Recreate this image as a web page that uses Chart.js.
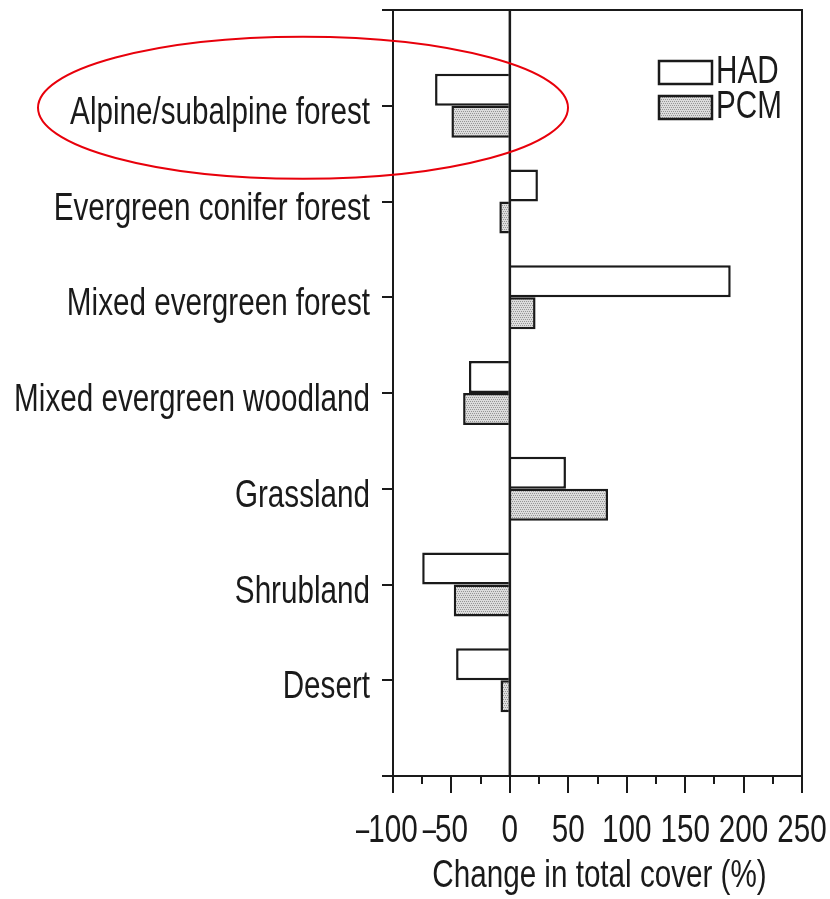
<!DOCTYPE html>
<html>
<head>
<meta charset="utf-8">
<script src="https://cdn.jsdelivr.net/npm/chart.js@4"></script>
<style>
  body { margin: 0; background: #fff; }
  canvas { display: block; }
</style>
</head>
<body>
<canvas id="my-chart" width="830" height="899"></canvas>
<script>
// blank first/last slots give the ticks at the top and bottom of the frame
const categories = ['', 'Alpine/subalpine forest', 'Evergreen conifer forest', 'Mixed evergreen forest',
    'Mixed evergreen woodland', 'Grassland', 'Shrubland', 'Desert', ''];
const hadValues = [null, -64, 24, 189, -35, 48, -75, -46, null];
const pcmValues = [null, -50, -9, 22, -40, 84, -48, -8, null];
const seriesNames = ['HAD', 'PCM'];
const xTicks = [-100, -50, 0, 50, 100, 150, 200, 250];
const xTitle = 'Change in total cover (%)';

// the original type is a condensed sans; squeeze Liberation Sans to match
const FONT = "38px 'Liberation Sans', Arial, sans-serif";
const SQUEEZE = 0.78;
const ink = '#1a1a1a';

const ctx = document.getElementById('my-chart').getContext('2d');

function makeStipple() {
    const c = document.createElement('canvas');
    c.width = 4;
    c.height = 4;
    const g = c.getContext('2d');
    g.fillStyle = '#dcdcdc';
    g.fillRect(0, 0, 4, 4);
    g.fillStyle = '#959595';
    g.fillRect(0, 1, 1, 1);
    g.fillRect(2, 1, 1, 1);
    g.fillRect(1, 3, 1, 1);
    g.fillRect(3, 3, 1, 1);
    return ctx.createPattern(c, 'repeat');
}
const stipple = makeStipple();

function squeezedText(c, text, x, y, align, extra = 1) {
    c.save();
    c.translate(x, y);
    c.scale(SQUEEZE * extra, 1);
    c.textAlign = align;
    c.fillText(text, 0, 0);
    c.restore();
}

function squeezedWidth(c, text) {
    return c.measureText(text).width * SQUEEZE;
}

// frame, minor ticks, text, legend and the red ring
const extras = {
    id: 'extras',
    afterDraw(chart) {
        const c = chart.ctx;
        const area = chart.chartArea;
        const xs = chart.scales.x;
        const ys = chart.scales.y;
        c.save();
        c.strokeStyle = ink;
        c.lineWidth = 2;
        c.beginPath();
        c.moveTo(area.left, area.top);
        c.lineTo(area.right, area.top);
        c.lineTo(area.right, area.bottom);
        c.stroke();

        // zero line runs over the bars
        const zx = xs.getPixelForValue(0);
        c.lineWidth = 2.5;
        c.beginPath();
        c.moveTo(zx, area.top);
        c.lineTo(zx, area.bottom);
        c.stroke();
        c.lineWidth = 2;

        // minor ticks every 25
        for (let v = xTicks[0] + 25; v < xTicks[xTicks.length - 1]; v += 50) {
            const px = Math.round(xs.getPixelForValue(v));
            c.beginPath();
            c.moveTo(px, area.bottom);
            c.lineTo(px, area.bottom + 8);
            c.stroke();
        }

        c.font = FONT;
        c.fillStyle = ink;
        c.textBaseline = 'alphabetic';

        // category labels
        categories.forEach((label, i) => {
            if (!label) return;
            squeezedText(c, label, area.left - 23, ys.getPixelForTick(i) + 18, 'right');
        });

        // value labels, digits centred on the tick, minus hanging left
        xTicks.forEach(v => {
            const px = xs.getPixelForValue(v);
            const digits = String(Math.abs(v));
            const y = area.bottom + 66;
            squeezedText(c, digits, px, y, 'center');
            if (v < 0) {
                squeezedText(c, '\u2013', px - squeezedWidth(c, digits) / 2 + 1, y, 'right', 0.8);
            }
        });

        squeezedText(c, xTitle, (area.left + area.right) / 2 + 2, area.bottom + 111, 'center');

        // legend
        const fills = ['#ffffff', stipple];
        const boxL = area.right - 143;
        seriesNames.forEach((name, i) => {
            const top = area.top + 51 + i * 35;
            c.fillStyle = fills[i];
            c.fillRect(boxL, top, 53, 23);
            c.lineWidth = 2.5;
            c.strokeRect(boxL, top, 53, 23);
            c.fillStyle = ink;
            squeezedText(c, name, boxL + 57, top + 22, 'left');
        });

        // highlight ring around the first category
        const cy = ys.getPixelForValue(1);
        c.strokeStyle = '#e8000b';
        c.lineWidth = 2;
        c.beginPath();
        c.ellipse(area.left - 90, cy + 2, 265, 71, 0, 0, Math.PI * 2);
        c.stroke();
        c.restore();
    }
};

new Chart(ctx, {
    type: 'bar',
    data: {
        labels: categories,
        datasets: [{
            label: seriesNames[0],
            data: hadValues,
            backgroundColor: '#ffffff',
            borderColor: ink,
            borderWidth: 2.5,
            borderSkipped: 'start'
        }, {
            label: seriesNames[1],
            data: pcmValues,
            backgroundColor: stipple,
            borderColor: ink,
            borderWidth: 2.5,
            borderSkipped: 'start'
        }]
    },
    options: {
        responsive: false,
        animation: false,
        indexAxis: 'y',
        layout: { padding: { top: 10, right: 28, left: 0, bottom: 0 } },
        datasets: { bar: { categoryPercentage: 0.67, barPercentage: 1 } },
        plugins: { legend: { display: false }, tooltip: { enabled: false } },
        scales: {
            x: {
                type: 'linear',
                min: -100,
                max: 250,
                afterBuildTicks: scale => { scale.ticks = xTicks.map(v => ({ value: v })); },
                afterFit: scale => {
                    scale.height = 123;
                    scale.paddingLeft = 0;
                    scale.paddingRight = 0;
                },
                border: { color: ink, width: 2 },
                grid: {
                    drawOnChartArea: false,
                    lineWidth: 2,
                    tickColor: ink,
                    tickLength: 17
                },
                ticks: { display: false }
            },
            y: {
                offset: false,
                afterFit: scale => {
                    scale.width = 393;
                    scale.paddingTop = 0;
                    scale.paddingBottom = 0;
                },
                border: { color: ink, width: 2 },
                grid: {
                    offset: false,
                    drawOnChartArea: false,
                    tickColor: ink,
                    lineWidth: 2,
                    tickLength: 11
                },
                ticks: { display: false, autoSkip: false }
            }
        }
    },
    plugins: [extras]
});
</script>
</body>
</html>
